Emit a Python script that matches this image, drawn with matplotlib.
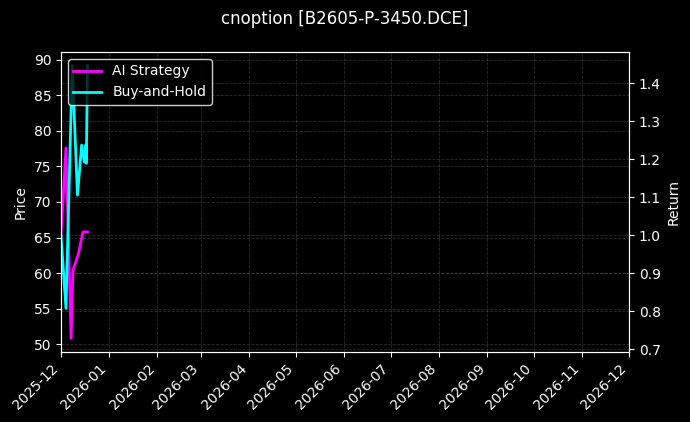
#!/usr/bin/env python3
# -*- coding:utf-8 -*-
import matplotlib
matplotlib.use("Agg")
import matplotlib.pyplot as plt
import matplotlib.dates as mdates
import pandas as pd

# returns (right axis)
ai_dates = ["2025-12-01 00:00", "2025-12-04 05:00", "2025-12-07 12:00",
            "2025-12-08 17:00", "2025-12-12 07:00", "2025-12-15 02:00",
            "2025-12-18 00:00"]
ai_returns = [1.0, 1.23, 0.729, 0.908, 0.953, 1.009, 1.009]

bh_dates = ["2025-12-01 00:00", "2025-12-04 05:00", "2025-12-08 05:00",
            "2025-12-11 14:00", "2025-12-14 07:00", "2025-12-16 00:00",
            "2025-12-16 22:00", "2025-12-17 07:00", "2025-12-18 00:00"]
bh_returns = [1.0, 0.808, 1.447, 1.106, 1.238, 1.193, 1.238, 1.19, 1.447]

price_range = (48.9, 91.1)
title = "cnoption [B2605-P-3450.DCE]"
x_start, x_end = "2025-12-01", "2026-12-01"

plt.style.use("dark_background")
fig, ax1 = plt.subplots(figsize=(6.9, 4.22), dpi=100)
fig.subplots_adjust(left=0.0884, right=0.9116, top=0.8768, bottom=0.1659)

ax1.set_ylim(*price_range)
ax1.set_ylabel("Price")
ax1.grid(True, linestyle="--", color="gray", alpha=0.35, linewidth=0.6)

ax2 = ax1.twinx()
ax2.plot(pd.to_datetime(ai_dates), ai_returns, color="#ff00ff",
         linewidth=2, label="AI Strategy")
ax2.plot(pd.to_datetime(bh_dates), bh_returns, color="#00ffff",
         linewidth=2, label="Buy-and-Hold")
ax2.set_ylabel("Return")
ax2.grid(True, linestyle="--", color="gray", alpha=0.35, linewidth=0.6)

ax1.set_xlim(pd.Timestamp(x_start), pd.Timestamp(x_end))
ax1.xaxis.set_major_locator(mdates.MonthLocator())
ax1.xaxis.set_major_formatter(mdates.DateFormatter("%Y-%m"))
plt.setp(ax1.get_xticklabels(), rotation=45, ha="right")

leg = ax2.legend(loc="upper left", facecolor="black", edgecolor="white",
                 framealpha=0.8)

fig.suptitle(title, fontsize=12, y=0.977)
fig.savefig("out.png", dpi=100, facecolor="black")
